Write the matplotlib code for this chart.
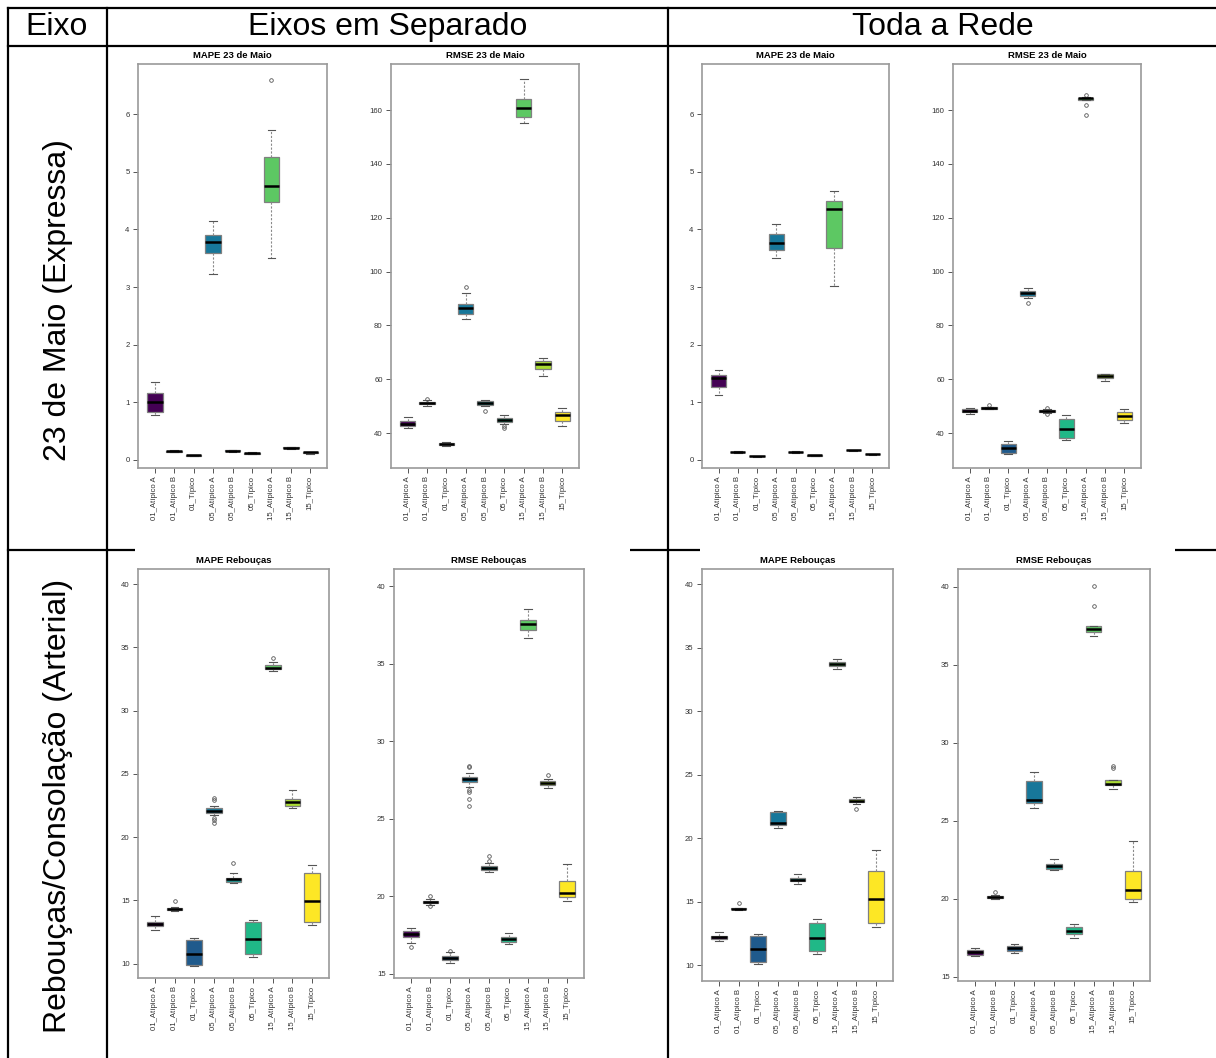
import matplotlib
matplotlib.use("Agg")
import matplotlib.pyplot as plt
from matplotlib.lines import Line2D
from matplotlib.patches import Rectangle

plt.rcParams['font.family'] = ['Liberation Sans', 'DejaVu Sans']

W, H = 1216, 1058

categorias = ["01_Atípico A", "01_Atípico B", "01_Típico",
              "05_Atípico A", "05_Atípico B", "05_Típico",
              "15_Atípico A", "15_Atípico B", "15_Típico"]
cores = ['#440154', '#472D7B', '#1F5A8C', '#17779A', '#1A8F8C',
         '#20B887', '#5DC863', '#AADC32', '#FDE725']

# (whislo, q1, med, q3, whishi) por categoria
mape_maio_sep = [(0.78, 0.84, 1.00, 1.16, 1.35), (0.13, 0.14, 0.15, 0.16, 0.17),
                 (0.06, 0.07, 0.08, 0.085, 0.09), (3.22, 3.59, 3.78, 3.90, 4.14),
                 (0.14, 0.15, 0.16, 0.17, 0.18), (0.10, 0.11, 0.12, 0.125, 0.13),
                 (3.50, 4.48, 4.76, 5.25, 5.73), (0.19, 0.20, 0.21, 0.22, 0.23),
                 (0.11, 0.12, 0.13, 0.135, 0.14)]
mape_maio_sep_out = [[], [], [], [], [], [], [6.60], [], []]

rmse_maio_sep = [(41.9, 42.6, 43.5, 44.5, 45.9), (50.0, 50.7, 51.2, 51.5, 52.3),
                 (35.0, 35.5, 36.0, 36.3, 36.6), (82.3, 84.1, 86.5, 88.1, 92.0),
                 (50.0, 50.4, 51.0, 51.9, 52.3), (43.5, 44.2, 44.8, 45.5, 46.6),
                 (155.1, 157.5, 160.8, 164.0, 171.5), (61.1, 63.7, 65.6, 66.9, 67.9),
                 (42.6, 44.3, 46.7, 47.9, 49.3)]
rmse_maio_sep_out = [[], [52.6], [], [94.4], [48.2], [42.7, 42.0], [], [], []]

mape_maio_rede = [(1.13, 1.26, 1.42, 1.47, 1.56), (0.12, 0.13, 0.14, 0.145, 0.16),
                  (0.055, 0.06, 0.065, 0.07, 0.075), (3.51, 3.65, 3.77, 3.92, 4.09),
                  (0.12, 0.13, 0.14, 0.145, 0.16), (0.07, 0.075, 0.08, 0.085, 0.09),
                  (3.01, 3.68, 4.35, 4.49, 4.67), (0.16, 0.165, 0.17, 0.175, 0.18),
                  (0.09, 0.095, 0.10, 0.105, 0.11)]
mape_maio_rede_out = [[], [], [], [], [], [], [], [], []]

rmse_maio_rede = [(46.9, 47.7, 48.3, 48.9, 49.4), (48.9, 49.0, 49.3, 49.5, 49.6),
                  (32.1, 32.5, 34.3, 35.9, 37.2), (90.3, 90.9, 91.9, 92.9, 94.0),
                  (47.5, 47.8, 48.2, 48.5, 48.8), (37.4, 38.3, 41.6, 45.1, 46.6),
                  (163.6, 163.8, 164.3, 164.6, 164.9), (59.5, 60.3, 61.2, 61.9, 62.1),
                  (43.6, 44.7, 46.3, 47.9, 48.8)]
rmse_maio_rede_out = [[], [50.5], [], [88.2], [49.2, 47.0], [], [165.4, 161.8, 158.1], [], []]

mape_reb_sep = [(12.62, 12.96, 13.12, 13.30, 13.73), (14.15, 14.20, 14.31, 14.39, 14.47),
                (9.78, 9.88, 10.75, 11.83, 11.99), (21.74, 21.92, 22.08, 22.27, 22.47),
                (16.34, 16.47, 16.65, 16.78, 17.18), (10.49, 10.72, 11.96, 13.30, 13.44),
                (33.10, 33.26, 33.41, 33.57, 33.83), (22.29, 22.47, 22.77, 22.98, 23.72),
                (13.04, 13.26, 14.94, 17.18, 17.81)]
mape_reb_sep_out = [[], [14.92], [], [23.1, 22.95, 21.5, 21.34, 21.13], [17.92], [], [34.17], [], []]

rmse_reb_sep = [(17.02, 17.40, 17.58, 17.75, 17.94), (19.45, 19.55, 19.62, 19.70, 19.80),
                (15.69, 15.90, 16.03, 16.16, 16.42), (27.07, 27.35, 27.54, 27.69, 27.97),
                (21.59, 21.70, 21.85, 21.98, 22.13), (16.91, 17.08, 17.26, 17.38, 17.66),
                (36.63, 37.16, 37.55, 37.81, 38.52), (27.00, 27.16, 27.29, 27.44, 27.58),
                (19.68, 19.94, 20.19, 20.99, 22.07)]
rmse_reb_sep_out = [[16.76], [20.05, 19.4], [16.5], [28.42, 28.31, 26.86, 26.73, 26.26, 25.82],
                    [22.6, 22.3], [], [], [27.80], []]

mape_reb_rede = [(11.92, 12.02, 12.18, 12.31, 12.57), (14.30, 14.38, 14.43, 14.48, 14.52),
                 (10.10, 10.21, 11.23, 12.26, 12.47), (20.79, 21.00, 21.16, 22.07, 22.15),
                 (16.35, 16.59, 16.69, 16.87, 17.17), (10.87, 11.10, 12.10, 13.28, 13.60),
                 (33.31, 33.57, 33.72, 33.91, 34.07), (22.65, 22.83, 22.94, 23.05, 23.23),
                 (13.02, 13.28, 15.20, 17.43, 19.08)]
mape_reb_rede_out = [[], [14.86], [], [], [], [], [], [22.31], []]

rmse_reb_rede = [(16.32, 16.43, 16.58, 16.75, 16.88), (19.99, 20.04, 20.12, 20.21, 20.25),
                 (16.52, 16.69, 16.84, 16.97, 17.09), (25.85, 26.17, 26.32, 27.53, 28.11),
                 (21.84, 21.90, 22.09, 22.22, 22.54), (17.48, 17.73, 17.97, 18.20, 18.42),
                 (36.84, 37.08, 37.31, 37.49, 37.49), (27.02, 27.30, 27.34, 27.62, 27.62),
                 (19.83, 19.98, 20.60, 21.81, 23.69)]
rmse_reb_rede_out = [[], [20.46], [], [], [], [], [40.07, 38.77], [28.54, 28.41], []]

# painel: (titulo, dados, outliers, caixa em px (x0, y0, x1, y1), ylim, yticks)
mape_ticks = [0, 1, 2, 3, 4, 5, 6]
rmse_ticks = [40, 60, 80, 100, 120, 140, 160]
reb_mape_ticks = [10, 15, 20, 25, 30, 35, 40]
reb_rmse_ticks = [15, 20, 25, 30, 35, 40]

paineis = [
    ("MAPE 23 de Maio", mape_maio_sep, mape_maio_sep_out, (138, 64, 327, 468), (-0.14, 6.87), mape_ticks),
    ("RMSE 23 de Maio", rmse_maio_sep, rmse_maio_sep_out, (391, 64, 579, 468), (27.0, 177.1), rmse_ticks),
    ("MAPE 23 de Maio", mape_maio_rede, mape_maio_rede_out, (702, 64, 889, 468), (-0.14, 6.87), mape_ticks),
    ("RMSE 23 de Maio", rmse_maio_rede, rmse_maio_rede_out, (953, 64, 1141, 468), (27.0, 177.1), rmse_ticks),
    ("MAPE Rebouças", mape_reb_sep, mape_reb_sep_out, (138, 569, 329, 978), (8.86, 41.2), reb_mape_ticks),
    ("RMSE Rebouças", rmse_reb_sep, rmse_reb_sep_out, (394, 569, 584, 978), (14.74, 41.1), reb_rmse_ticks),
    ("MAPE Rebouças", mape_reb_rede, mape_reb_rede_out, (702, 569, 893, 981), (8.74, 41.2), reb_mape_ticks),
    ("RMSE Rebouças", rmse_reb_rede, rmse_reb_rede_out, (958, 569, 1150, 981), (14.74, 41.13), reb_rmse_ticks),
]


def fx(x):
    return x / W


def fy(y):
    return 1 - y / H


fig = plt.figure(figsize=(W / 100, H / 100), dpi=100)

# linhas da tabela
linhas = [((8, 1216), (8, 8)), ((8, 1216), (46, 46)), ((8, 1216), (550, 550)),
          ((8, 8), (8, 1058)), ((107, 107), (8, 1058)), ((668, 668), (8, 1058))]
for xs, ys in linhas:
    fig.add_artist(Line2D([fx(xs[0]), fx(xs[1])], [fy(ys[0]), fy(ys[1])],
                          transform=fig.transFigure, color='black', lw=1.6, zorder=-3))

# fundo branco das figuras da segunda linha
for x0, x1 in [(135, 630), (700, 1175)]:
    fig.add_artist(Rectangle((fx(x0), fy(1058)), fx(x1) - fx(x0), fy(548) - fy(1058),
                             transform=fig.transFigure, facecolor='white',
                             edgecolor='none', zorder=-2))

fig.text(fx(57), fy(27), "Eixo", ha='center', va='center', fontsize=23)
fig.text(fx(388), fy(27), "Eixos em Separado", ha='center', va='center', fontsize=23)
fig.text(fx(943), fy(27), "Toda a Rede", ha='center', va='center', fontsize=23)
fig.text(fx(58), fy(300), "23 de Maio (Expressa)", ha='center', va='center',
         rotation=90, fontsize=23)
fig.text(fx(58), fy(806), "Rebouças/Consolação (Arterial)", ha='center', va='center',
         rotation=90, fontsize=23)

for titulo, dados, outs, (x0, y0, x1, y1), ylim, yticks in paineis:
    ax = fig.add_axes([fx(x0), fy(y1), fx(x1) - fx(x0), fy(y0) - fy(y1)])
    stats = []
    for nome, (lo, q1, med, q3, hi), out in zip(categorias, dados, outs):
        stats.append(dict(label=nome, whislo=lo, q1=q1, med=med, q3=q3,
                          whishi=hi, fliers=out))
    bp = ax.bxp(stats, positions=range(1, 10), widths=0.8, capwidths=0.4,
                patch_artist=True,
                boxprops=dict(edgecolor='#808080', linewidth=0.9),
                whiskerprops=dict(color='#8a8a8a', linestyle=(0, (2, 1.5)), linewidth=0.8),
                capprops=dict(color='#555555', linewidth=0.8),
                medianprops=dict(color='black', linewidth=1.8),
                flierprops=dict(marker='o', markerfacecolor='none', markeredgecolor='#555555',
                                markersize=2.6, markeredgewidth=0.6))
    for caixa, cor in zip(bp['boxes'], cores):
        caixa.set_facecolor(cor)
    ax.set_xlim(0.14, 9.86)
    ax.set_ylim(*ylim)
    ax.set_yticks(yticks)
    ax.set_xticks(range(1, 10))
    ax.set_xticklabels(categorias, rotation=90)
    ax.tick_params(axis='both', labelsize=5.6, colors='#555555', labelcolor='#333333',
                   length=3.5, width=0.7, pad=2.5)
    for sp in ax.spines.values():
        sp.set_color('#9a9a9a')
        sp.set_linewidth(1.2)
    ax.set_title(titulo, fontsize=6.8, fontweight='bold', pad=4)

fig.savefig("out.png", dpi=100, facecolor='white')
